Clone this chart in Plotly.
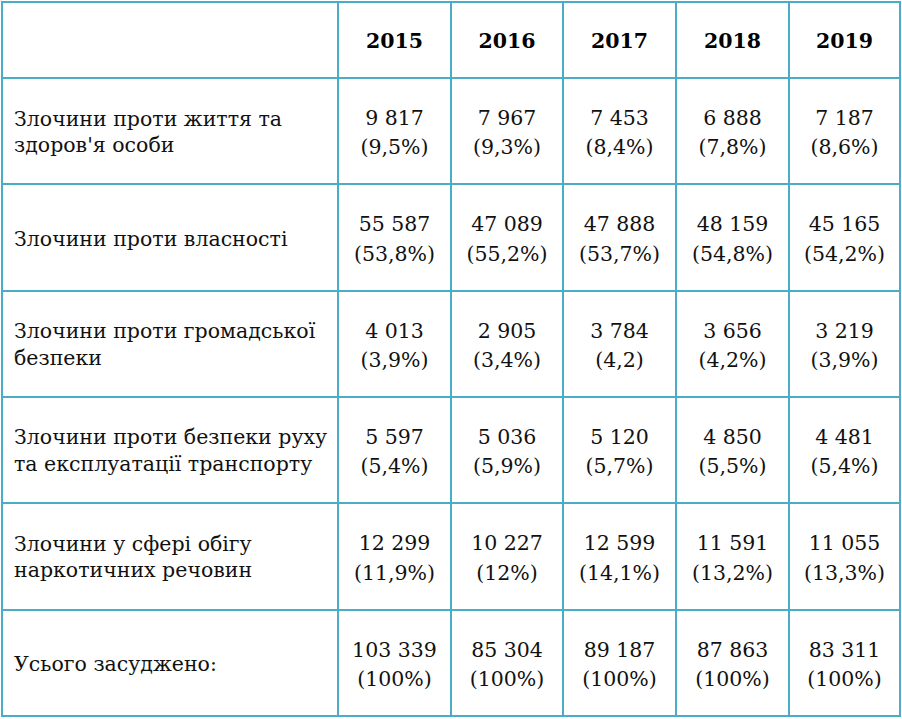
import plotly.graph_objects as go

years = ["2015", "2016", "2017", "2018", "2019"]
categories = [
    "Злочини проти життя та<br>здоров'я особи",
    "Злочини проти власності",
    "Злочини проти громадської<br>безпеки",
    "Злочини проти безпеки руху<br>та експлуатації транспорту",
    "Злочини у сфері обігу<br>наркотичних речовин",
    "Усього засуджено:",
]

counts_2015 = [9817, 55587, 4013, 5597, 12299, 103339]
counts_2016 = [7967, 47089, 2905, 5036, 10227, 85304]
counts_2017 = [7453, 47888, 3784, 5120, 12599, 89187]
counts_2018 = [6888, 48159, 3656, 4850, 11591, 87863]
counts_2019 = [7187, 45165, 3219, 4481, 11055, 83311]

shares_2015 = ["9,5%", "53,8%", "3,9%", "5,4%", "11,9%", "100%"]
shares_2016 = ["9,3%", "55,2%", "3,4%", "5,9%", "12%", "100%"]
shares_2017 = ["8,4%", "53,7%", "4,2", "5,7%", "14,1%", "100%"]
shares_2018 = ["7,8%", "54,8%", "4,2%", "5,5%", "13,2%", "100%"]
shares_2019 = ["8,6%", "54,2%", "3,9%", "5,4%", "13,3%", "100%"]

all_counts = [counts_2015, counts_2016, counts_2017, counts_2018, counts_2019]
all_shares = [shares_2015, shares_2016, shares_2017, shares_2018, shares_2019]

# "9 817" and "(9,5%)" text columns
count_cols = [["{:,}".format(c).replace(",", "\u00a0") for c in col]
              for col in all_counts]
share_cols = [["(" + s + ")" for s in col] for col in all_shares]

# two-line labels go in one text table, one-line ones get their own
two_line = [c if "<br>" in c else "" for c in categories]
blank = [""] * len(categories)

# geometry (pixels)
W, H = 902, 719
ML, MR, MT = 2, 2, 2
PW, PH = W - ML - MR, H - MT
HEAD_H = 76
ROW_H = 106.33
HEAD_SHIFT = 19     # push header text down
BODY_SHIFT = 21.5   # push body text down
COUNT_DY = 2        # extra push for the one-line number rows
GAP = 29.5          # distance between the number and the percent line
LEFT_PAD = 4
widths = [336, 113, 112, 113, 113, 111]

border = "#4BACC6"
ff = "DejaVu Serif"
fs = 20.5
txt = "#111111"
clear = "rgba(0,0,0,0)"
aligns = ["left"] + ["center"] * 5
no_line = dict(color=clear, width=0)
text_font = dict(family=ff, color=txt, size=fs)
text_widths = [widths[0] - LEFT_PAD] + widths[1:]
n = len(categories) - 1


def ytop(px):
    return 1 - px / PH


# grid with borders only
grid = go.Table(
    domain=dict(x=[0, 1], y=[0, 1]),
    columnwidth=widths,
    header=dict(values=[""] * 6, fill=dict(color="white"),
                line=dict(color=border, width=2), height=HEAD_H),
    cells=dict(values=[[""] * 6 for _ in range(6)], fill=dict(color="white"),
               line=dict(color=border, width=2), height=ROW_H),
    hoverinfo="skip",
)


def body_table(top, head, cols, head_h):
    # header row + first five data rows of text, no lines or fill
    return go.Table(
        domain=dict(x=[LEFT_PAD / PW, 1], y=[0, ytop(top)]),
        columnwidth=text_widths,
        header=dict(values=head, align=aligns,
                    font=dict(family=ff, color="black", size=fs),
                    fill=dict(color=clear), line=no_line, height=head_h),
        cells=dict(values=[col[:n] for col in cols], align=aligns,
                   font=text_font, fill=dict(color=clear), line=no_line,
                   height=ROW_H),
    )


def row_table(top, vals):
    # a single line of text for the total row
    return go.Table(
        domain=dict(x=[LEFT_PAD / PW, 1], y=[0, ytop(top)]),
        columnwidth=text_widths,
        header=dict(values=vals, align=aligns, font=text_font,
                    fill=dict(color=clear), line=no_line, height=40),
    )


head_h = HEAD_H + BODY_SHIFT - HEAD_SHIFT
total_top = HEAD_H + n * ROW_H + BODY_SHIFT + COUNT_DY
traces = [
    grid,
    body_table(HEAD_SHIFT, [""] + ["<b>" + y + "</b>" for y in years],
               [blank] + count_cols, head_h + COUNT_DY),
    body_table(HEAD_SHIFT + COUNT_DY + GAP, [""] * 6,
               [blank] + share_cols, head_h),
    body_table(HEAD_SHIFT, [""] * 6, [two_line] + [blank] * 5, head_h - 1),
    row_table(total_top, [""] + [col[n] for col in count_cols]),
    row_table(total_top + GAP, [""] + [col[n] for col in share_cols]),
]

# one-line labels, centred between the two lines of the numbers
for i, label in enumerate(categories):
    if "<br>" in label:
        continue
    top = HEAD_H + i * ROW_H + BODY_SHIFT + COUNT_DY + GAP / 2
    traces.append(go.Table(
        domain=dict(x=[LEFT_PAD / PW, widths[0] / PW], y=[0, ytop(top)]),
        header=dict(values=[label], align="left", font=text_font,
                    fill=dict(color=clear), line=no_line, height=40),
    ))

fig = go.Figure(data=traces)

fig.update_layout(
    margin=dict(l=ML, r=MR, t=MT, b=0),
    width=W,
    height=H,
    paper_bgcolor="white",
)

fig.write_html("out.html", config={"displayModeBar": False},
               post_script="document.body.style.margin='0';")
